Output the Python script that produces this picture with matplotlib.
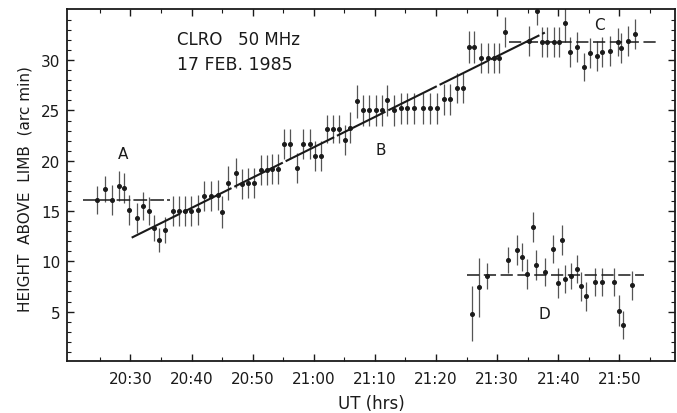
import matplotlib.pyplot as plt
import numpy as np

# time in minutes after 20:00 UT, height in arc min
main_t = [24.6, 25.8, 26.9, 28.1, 29.0, 29.8, 31.1, 32.0, 33.1, 33.9, 34.7, 35.7,
          36.9, 37.9, 38.9, 39.9, 41.0, 42.1, 43.2, 44.4, 45.0, 45.9, 47.2, 48.3,
          49.3, 50.2, 51.3, 52.3, 53.2, 54.2, 55.1, 56.1, 57.3, 58.3, 59.3, 60.2,
          61.2, 62.2, 63.2, 64.1, 65.1, 66.0, 67.0, 68.1, 69.1, 70.2, 71.1, 72.0,
          73.2, 74.2, 75.3, 76.4, 77.8, 79.0, 80.2, 81.3, 82.3, 83.5, 84.4, 85.4,
          86.2, 87.3, 88.5, 89.5, 90.3, 91.3, 95.2, 96.5, 97.3, 98.2, 99.3, 100.1,
          101.1, 101.9, 103.1, 104.2, 105.2, 106.3, 107.2, 108.4, 109.8, 110.3,
          111.4, 112.5]
main_h = [16.1, 17.2, 16.1, 17.5, 17.3, 15.1, 14.3, 15.5, 15.0, 13.3, 12.1, 13.1,
          15.0, 15.0, 15.0, 15.0, 15.1, 16.5, 16.5, 16.6, 14.9, 17.8, 18.8, 17.7,
          17.8, 17.8, 19.1, 19.1, 19.2, 19.2, 21.7, 21.7, 19.3, 21.7, 21.7, 20.5,
          20.5, 23.2, 23.2, 23.2, 22.1, 23.3, 25.9, 25.0, 25.0, 25.0, 25.0, 26.0,
          25.0, 25.2, 25.2, 25.2, 25.2, 25.2, 25.2, 26.1, 26.1, 27.2, 27.2, 31.3,
          31.3, 30.2, 30.2, 30.2, 30.2, 32.8, 31.9, 34.9, 31.8, 31.8, 31.8, 31.8,
          33.7, 30.8, 31.3, 29.3, 30.7, 30.4, 30.8, 30.9, 31.8, 31.2, 31.9, 32.6]
main_err = [1.4, 1.3, 1.5, 1.5, 1.5, 1.5, 1.5, 1.4, 1.4, 1.3, 1.2, 1.3,
            1.5, 1.5, 1.5, 1.5, 1.5, 1.5, 1.5, 1.5, 1.6, 1.7, 1.5, 1.5,
            1.5, 1.5, 1.5, 1.5, 1.5, 1.5, 1.5, 1.5, 1.5, 1.5, 1.5, 1.5,
            1.5, 1.4, 1.4, 1.4, 1.5, 1.5, 1.6, 1.5, 1.5, 1.5, 1.5, 1.5,
            1.5, 1.5, 1.5, 1.5, 1.5, 1.5, 1.5, 1.5, 1.5, 1.5, 1.5, 1.6,
            1.6, 1.5, 1.5, 1.5, 1.5, 1.5, 1.5, 1.4, 1.5, 1.5, 1.5, 1.5,
            1.9, 1.5, 1.5, 1.4, 1.5, 1.5, 1.5, 1.5, 1.4, 1.5, 1.5, 1.5]

# component D
d_t = [85.9, 87.1, 88.3, 91.7, 93.2, 94.0, 94.8, 95.9, 96.4, 97.8, 99.1, 100.0,
       100.6, 101.1, 102.1, 103.0, 103.7, 104.6, 106.0, 107.2, 109.1, 110.0,
       110.6, 112.0]
d_h = [4.8, 7.4, 8.5, 10.1, 11.1, 10.4, 8.7, 13.4, 9.6, 8.9, 11.2, 7.8,
       12.1, 8.2, 8.5, 9.2, 7.5, 6.5, 7.9, 7.9, 7.9, 5.1, 3.7, 7.6]
d_err = [2.7, 2.9, 1.3, 1.3, 1.5, 1.4, 1.5, 1.5, 1.5, 1.4, 1.4, 1.5,
         1.5, 1.4, 1.3, 1.4, 1.4, 1.4, 1.4, 1.4, 1.4, 1.5, 1.4, 1.4]

# fitted lines: (t0, h0, t1, h1)
fit_a = (22.3, 16.05, 36.5, 16.05)
fit_b = (30.2, 12.35, 97.8, 32.75)
fit_c = (91.9, 31.85, 116.3, 31.85)
fit_d = (85.0, 8.65, 114.0, 8.65)

xtick_labels = ['20:30', '20:40', '20:50', '21:00', '21:10', '21:20', '21:30', '21:40', '21:50']
ytick_values = [5, 10, 15, 20, 25, 30]


def to_min(s):
    h, m = s.split(':')
    return (int(h) - 20) * 60 + int(m)


fig = plt.figure(figsize=(6.77, 4.14), dpi=100)
ax = fig.add_axes([0.0997, 0.126, 0.8974, 0.850])

ink = '#1a1a1a'
bar_col = '#555555'

# data points with error bars
ax.errorbar(main_t, main_h, yerr=main_err, fmt='o', ms=2.6, color=ink,
            ecolor=bar_col, elinewidth=0.9, capsize=0, clip_on=True)
ax.errorbar(d_t, d_h, yerr=d_err, fmt='o', ms=2.6, color=ink,
            ecolor=bar_col, elinewidth=0.9, capsize=0)

# fit lines
ax.plot(fit_a[0::2], fit_a[1::2], color=ink, lw=1.1, ls=(0, (9, 2)))
ax.plot(fit_b[0::2], fit_b[1::2], color=ink, lw=1.5, ls=(0, (26, 1.5)))
ax.plot(fit_c[0::2], fit_c[1::2], color=ink, lw=1.1, ls=(0, (8, 3)))
ax.plot(fit_d[0::2], fit_d[1::2], color=ink, lw=1.1, ls=(0, (8, 3)))

# component labels
ax.text(28.8, 20.7, 'A', fontsize=11, color=ink, ha='center', va='center')
ax.text(71.0, 21.1, 'B', fontsize=11, color=ink, ha='center', va='center')
ax.text(106.8, 33.6, 'C', fontsize=11, color=ink, ha='center', va='center')
ax.text(97.8, 4.8, 'D', fontsize=11, color=ink, ha='center', va='center')

ax.text(37.6, 32.1, 'CLRO   50 MHz', fontsize=12, color=ink, va='center')
ax.text(37.6, 29.6, '17 FEB. 1985', fontsize=12.5, color=ink, va='center',
        fontweight='medium')

ax.set_xlim(19.7, 119.1)
ax.set_ylim(0.1, 35.1)

ax.set_xticks([to_min(s) for s in xtick_labels])
ax.set_xticklabels(xtick_labels, fontsize=11, color=ink)
ax.set_xticks(np.arange(25, 119, 5), minor=True)
ax.set_yticks(ytick_values)
ax.set_yticklabels([str(v) for v in ytick_values], fontsize=11, color=ink)
ax.set_yticks(np.arange(1, 35, 1), minor=True)

ax.tick_params(which='both', direction='in', top=True, right=True, color=ink)
ax.tick_params(which='major', length=5, width=1.0, pad=6)
ax.tick_params(which='minor', length=3, width=0.8)
ax.tick_params(axis='x', which='major', pad=7)
ax.tick_params(axis='y', which='major', pad=5)

for sp in ax.spines.values():
    sp.set_linewidth(1.3)
    sp.set_color(ink)

ax.set_xlabel('UT (hrs)', fontsize=12, color=ink, labelpad=6)
ax.set_ylabel('HEIGHT  ABOVE  LIMB  (arc min)', fontsize=11, color=ink)
ax.yaxis.set_label_coords(-0.058, 0.49)

fig.savefig('out.png', dpi=100)
